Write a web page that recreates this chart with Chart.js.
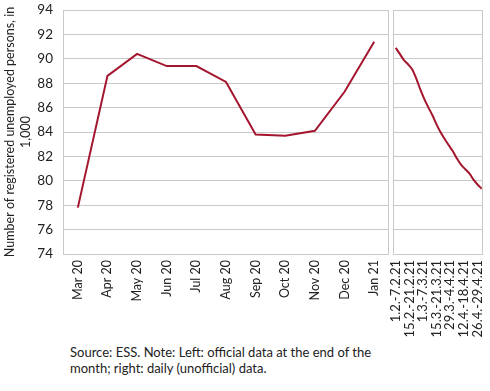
<!DOCTYPE html>
<html>
<head>
<meta charset="utf-8">
<script src="https://cdn.jsdelivr.net/npm/chart.js@4"></script>
<style>
  body { margin: 0; background: #fff; width: 490px; height: 391px; overflow: hidden; position: relative; font-family: Lato, sans-serif; }
  #left-wrap { position: absolute; left: 0; top: 0; width: 390px; height: 340px; }
  #right-wrap { position: absolute; left: 389px; top: 0; width: 101px; height: 340px; }
  #note { position: absolute; left: 70px; top: 344px; font-size: 13px; line-height: 16px; color: #222; }
</style>
</head>
<body>
<div id="left-wrap"><canvas id="left-chart"></canvas></div>
<div id="right-wrap"><canvas id="right-chart"></canvas></div>
<div id="note">Source: ESS. Note: Left: official data at the end of the<br>month; right: daily (unofficial) data.</div>
<script>
  // monthly official data (thousands)
  const months = ["Mar 20", "Apr 20", "May 20", "Jun 20", "Jul 20", "Aug 20", "Sep 20", "Oct 20", "Nov 20", "Dec 20", "Jan 21"];
  const monthlyValues = [77.8, 88.6, 90.4, 89.4, 89.4, 88.1, 83.8, 83.7, 84.1, 87.3, 91.4];

  // daily unofficial data, x = working day since 1.2.21
  const dailyDays = [0, 3, 6, 9, 12, 15, 18, 21, 24, 27, 30, 33, 36, 39, 42, 45, 48, 51, 54, 57, 60, 63];
  const dailyValues = [90.9, 90.4, 89.9, 89.55, 89.15, 88.4, 87.5, 86.7, 86.0, 85.35, 84.6, 83.95, 83.4, 82.9, 82.4, 81.8, 81.3, 80.95, 80.6, 80.1, 79.7, 79.35];
  const weekLabels = ["1.2.-7.2.21", "15.2.-21.2.21", "1.3.-7.3.21", "15.3.-21.3.21", "29.3.-4.4.21", "12.4.-18.4.21", "26.4.-29.4.21"];
  const weekTickDays = [0, 10, 20, 30, 40, 50, 60];
  const yTitle = ["Number of registered unemployed persons, in", "1,000"];

  const RED = "#a3162e";
  const GRID = "#c9c9c9";
  const TXT = "#222";
  const Y_MIN = 74, Y_MAX = 94;

  const boxPlugin = {
    id: "box",
    afterDraw(c) {
      const a = c.chartArea, ctx = c.ctx;
      const l = Math.round(a.left) + 0.5, r = Math.round(a.right) - 0.5;
      const t = Math.round(a.top) + 0.5, b = Math.round(a.bottom) + 0.5;
      ctx.save();
      ctx.strokeStyle = GRID;
      ctx.lineWidth = 1;
      ctx.beginPath();
      ctx.moveTo(l, t); ctx.lineTo(r, t); ctx.lineTo(r, b); ctx.lineTo(l, b); ctx.closePath();
      ctx.stroke();
      ctx.restore();
    }
  };

  // centred two-line axis title
  const yTitlePlugin = {
    id: "ytitle",
    afterDraw(c) {
      const a = c.chartArea, ctx = c.ctx;
      ctx.save();
      ctx.translate(0, (a.top + a.bottom) / 2);
      ctx.rotate(-Math.PI / 2);
      ctx.fillStyle = TXT;
      ctx.font = "12.5px Lato";
      ctx.textAlign = "center";
      ctx.textBaseline = "middle";
      ctx.fillText(yTitle[0], 0, 10);
      ctx.fillText(yTitle[1], 0, 26);
      ctx.restore();
    }
  };

  // fixed axis sizes so both panels share the same plot top/bottom
  const fixX = s => { s.height = 86; s.paddingLeft = 0; s.paddingRight = 0; };
  const fixY = w => s => { s.width = w; s.paddingTop = 0; s.paddingBottom = 0; };

  function yScale(showLabels, width) {
    return {
      min: Y_MIN, max: Y_MAX,
      afterFit: fixY(width),
      grid: { color: GRID, drawTicks: false },
      border: { display: false },
      ticks: { display: showLabels, stepSize: 2, padding: 10, color: TXT, font: { family: "Lato", size: 13.5 } }
    };
  }

  new Chart(document.getElementById("left-chart"), {
    type: "line",
    data: { labels: months, datasets: [{ data: monthlyValues, borderColor: RED, borderWidth: 2, pointRadius: 0, tension: 0 }] },
    options: {
      responsive: true, maintainAspectRatio: false, animation: false,
      layout: { padding: { top: 10, right: 1, left: 0, bottom: 0 } },
      plugins: { legend: { display: false }, tooltip: { enabled: false } },
      scales: {
        x: {
          offset: true,
          afterFit: fixX,
          grid: { display: false, drawTicks: false },
          border: { display: false },
          ticks: { autoSkip: false, minRotation: 90, maxRotation: 90, padding: 6, color: TXT, font: { family: "Lato", size: 12.5 } }
        },
        y: yScale(true, 63)
      }
    },
    plugins: [boxPlugin, yTitlePlugin]
  });

  new Chart(document.getElementById("right-chart"), {
    type: "line",
    data: { datasets: [{ data: dailyDays.map((d, i) => ({ x: d, y: dailyValues[i] })), borderColor: RED, borderWidth: 2, pointRadius: 0, tension: 0.3 }] },
    options: {
      responsive: true, maintainAspectRatio: false, animation: false,
      layout: { padding: { top: 10, right: 7, left: 0, bottom: 0 } },
      plugins: { legend: { display: false }, tooltip: { enabled: false } },
      scales: {
        x: {
          type: "linear", min: -2, max: 64,
          afterFit: fixX,
          afterBuildTicks: s => { s.ticks = weekTickDays.map(v => ({ value: v })); },
          grid: { display: false, drawTicks: false },
          border: { display: false },
          ticks: {
            autoSkip: false, minRotation: 90, maxRotation: 90, padding: 6, color: TXT,
            font: { family: "Lato", size: 13 },
            callback: (v, i) => weekLabels[i]
          }
        },
        y: yScale(false, 4)
      }
    },
    plugins: [boxPlugin]
  });
</script>
</body>
</html>
